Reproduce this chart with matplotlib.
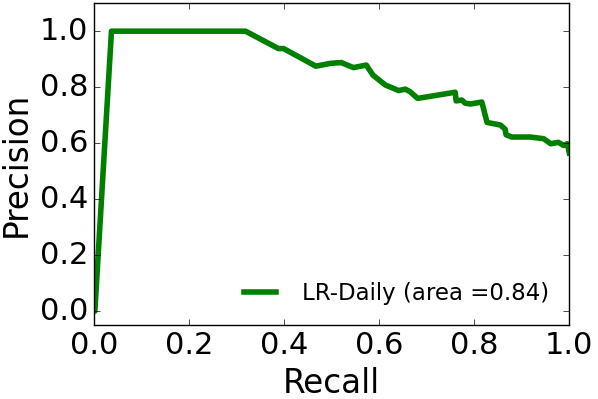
import matplotlib
matplotlib.use('Agg')
import matplotlib.pyplot as plt

# precision-recall curve
recall = [0.0, 0.002, 0.037, 0.319, 0.388, 0.399, 0.467, 0.497, 0.520, 0.546,
          0.573, 0.587, 0.613, 0.641, 0.655, 0.665, 0.681, 0.760, 0.762, 0.774,
          0.781, 0.792, 0.816, 0.827, 0.855, 0.865, 0.867, 0.879, 0.918, 0.946,
          0.961, 0.977, 0.988, 0.996, 1.0]
precision = [0.0, 0.0, 1.0, 1.0, 0.938, 0.938, 0.875, 0.885, 0.888, 0.870,
             0.879, 0.843, 0.808, 0.788, 0.793, 0.784, 0.760, 0.782, 0.751, 0.754,
             0.743, 0.740, 0.747, 0.674, 0.665, 0.650, 0.630, 0.622, 0.622, 0.616,
             0.598, 0.603, 0.592, 0.598, 0.565]
label = 'LR-Daily (area =0.84)'

plt.style.use('classic')
plt.rcParams['font.family'] = 'DejaVu Sans'

fig = plt.figure(figsize=(5.98, 3.99), dpi=100, facecolor='white')
ax = fig.add_axes([0.157, 0.185, 0.795, 0.807])
ax.plot(recall, precision, color='g', linewidth=4, label=label)
ax.set_xlim(0, 1.0)
ax.set_ylim(-0.05, 1.1)
ax.set_xticks([0.0, 0.2, 0.4, 0.6, 0.8, 1.0])
ax.set_yticks([0.0, 0.2, 0.4, 0.6, 0.8, 1.0])
ax.tick_params(labelsize=22)
ax.set_xlabel('Recall', fontsize=23.5)
ax.set_ylabel('Precision', fontsize=23.5)
ax.legend(loc='lower right', frameon=False, fontsize=16.5)

fig.savefig('out.png', dpi=100, facecolor='white')
